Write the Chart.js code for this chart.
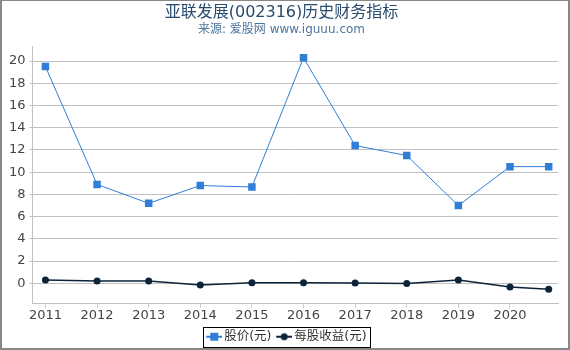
<!DOCTYPE html>
<html>
<head>
<meta charset="utf-8">
<script src="https://cdn.jsdelivr.net/npm/chart.js@4.4.1/dist/chart.umd.min.js"></script>
<style>
  html, body { margin: 0; padding: 0; background: #fff; }
  #wrap { width: 566px; height: 347px; border-style: solid; border-color: #888; border-width: 1px 2px 2px 2px; }
</style>
</head>
<body>
<div id="wrap"><canvas id="c" width="566" height="347"></canvas></div>
<script>
// data
const years = [2011, 2012, 2013, 2014, 2015, 2016, 2017, 2018, 2019, 2020, 2020.75];
const tickYears = [2011, 2012, 2013, 2014, 2015, 2016, 2017, 2018, 2019, 2020];
const price = [19.5, 8.9, 7.2, 8.8, 8.67, 20.3, 12.4, 11.5, 7.0, 10.5, 10.5];
const eps = [0.3, 0.22, 0.22, -0.15, 0.05, 0.05, 0.03, -0.02, 0.3, -0.34, -0.53];
const yTicks = [0, 2, 4, 6, 8, 10, 12, 14, 16, 18, 20];

const FONT = "'DejaVu Sans', 'Noto Sans CJK SC', sans-serif";

// little line+marker icons for the legend (drawn in the right 16px of an 18px canvas)
function legendIcon(color, shape) {
    const cv = document.createElement("canvas");
    cv.width = 18; cv.height = 10;
    const g = cv.getContext("2d");
    g.strokeStyle = color; g.lineWidth = 2;
    g.beginPath(); g.moveTo(2, 5); g.lineTo(18, 5); g.stroke();
    g.fillStyle = color;
    if (shape === "rect") g.fillRect(6, 1, 8, 8);
    else { g.beginPath(); g.arc(10, 5, 3.5, 0, Math.PI * 2); g.fill(); }
    return cv;
}

const legendBox = {
    id: "legendBox",
    afterLayout(chart) {
        // centre the legend on the whole canvas, not on the padded area
        chart.legend.left += 6;
        chart.legend.right += 6;
    },
    afterDraw(chart) {
        const boxes = chart.legend.legendHitBoxes;
        if (!boxes || !boxes.length) return;
        const first = boxes[0], last = boxes[boxes.length - 1];
        const l = Math.round(first.left - 5);
        const r = Math.round(last.left + last.width + 3);
        const cy = Math.round(first.top + first.height / 2);
        const ctx = chart.ctx;
        ctx.save();
        ctx.strokeStyle = "#000";
        ctx.lineWidth = 1;
        ctx.strokeRect(l + 0.5, cy - 10 + 0.5, r - l, 20);
        ctx.restore();
    }
};

new Chart(document.getElementById("c"), {
    type: "line",
    data: {
        datasets: [{
            label: "股价(元)",
            data: years.map((x, i) => ({ x: x, y: price[i] })),
            borderColor: "#2f7ed8",
            backgroundColor: "#2f7ed8",
            borderWidth: 1,
            pointStyle: "rect",
            pointRadius: 5.3,
            pointBorderWidth: 0,
            tension: 0
        }, {
            label: "每股收益(元)",
            data: years.map((x, i) => ({ x: x, y: eps[i] })),
            borderColor: "#0d233a",
            backgroundColor: "#0d233a",
            borderWidth: 1.5,
            pointStyle: "circle",
            pointRadius: 3.5,
            pointBorderWidth: 0,
            tension: 0
        }]
    },
    options: {
        responsive: false,
        animation: false,
        layout: { padding: { left: 3, right: 10, top: 0, bottom: -5 } },
        plugins: {
            title: {
                display: true,
                text: "亚联发展(002316)历史财务指标",
                color: "#274b6d",
                font: { family: FONT, size: 16, weight: "normal" },
                padding: { top: 2, bottom: 0 }
            },
            subtitle: {
                display: true,
                text: "来源: 爱股网 www.iguuu.com",
                color: "#4d759e",
                font: { family: FONT, size: 12, weight: "normal" },
                padding: { top: 0, bottom: 10 }
            },
            legend: {
                position: "bottom",
                labels: {
                    color: "#333",
                    font: { family: FONT, size: 12.5 },
                    usePointStyle: true,
                    pointStyleWidth: 9.5,
                    boxHeight: 10,
                    padding: 7,
                    generateLabels(chart) {
                        return chart.data.datasets.map((ds, i) => ({
                            text: ds.label,
                            fontColor: "#333",
                            pointStyle: legendIcon(ds.borderColor, ds.pointStyle),
                            datasetIndex: i,
                            lineWidth: 0
                        }));
                    }
                }
            },
            tooltip: { enabled: false }
        },
        scales: {
            x: {
                type: "linear",
                min: 2010.75,
                max: 2020.93,
                afterBuildTicks(s) { s.ticks = tickYears.map(v => ({ value: v })); },
                ticks: {
                    color: "#444",
                    font: { family: FONT, size: 13 },
                    maxRotation: 0,
                    padding: 0,
                    callback: v => String(v)
                },
                grid: { drawOnChartArea: false, drawTicks: true, tickLength: 4, color: "#c0d0e0" },
                border: { display: true, color: "#c0c0c0" }
            },
            y: {
                min: -1.85,
                max: 21.3,
                afterBuildTicks(s) { s.ticks = yTicks.map(v => ({ value: v })); },
                ticks: {
                    color: "#444",
                    font: { family: FONT, size: 13 },
                    padding: 4,
                    callback: v => String(v)
                },
                grid: { color: "#c0c0c0", tickLength: 3 },
                border: { display: true, color: "#c0c0c0" }
            }
        }
    },
    plugins: [legendBox]
});
</script>
</body>
</html>
